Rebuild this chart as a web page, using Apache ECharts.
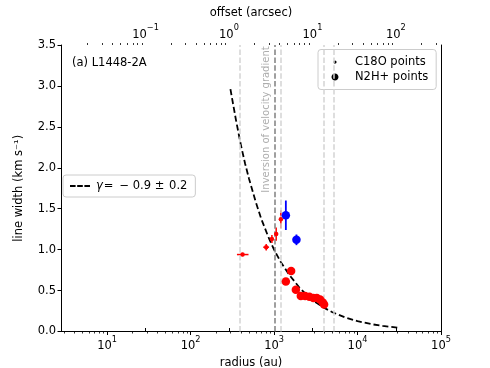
<!DOCTYPE html>
<html>
<head>
<meta charset="utf-8">
<script src="https://cdn.jsdelivr.net/npm/echarts@6/dist/echarts.min.js"></script>
<style>
  html, body { margin: 0; padding: 0; background: #fff; }
  #chart { width: 490px; height: 368px; }
</style>
</head>
<body>
<div id="chart"></div>
<script>
// ---- data ----
const distPc = 288;                 // au per arcsec
const xMin = 2.8, xMax = 1e5;       // radius range (au)

// dashed power-law curve, gamma = -0.9
const fitRadius = [300, 350, 400, 450, 500, 600, 700, 850, 1000, 1200, 1500, 2000, 2500, 3000, 4000, 5000, 7000, 10000, 15000, 20000, 30000];
const fitWidth  = [2.96, 2.58, 2.28, 2.05, 1.87, 1.59, 1.38, 1.16, 1.00, 0.85, 0.70, 0.54, 0.44, 0.37, 0.288, 0.235, 0.174, 0.126, 0.088, 0.068, 0.047];

// C18O points (small red) with errors
const c18oRadius = [419, 805, 942, 1060, 1206];
const c18oWidth  = [0.94, 1.03, 1.13, 1.19, 1.37];
const c18oErr    = [0.02, 0.04, 0.05, 0.08, 0.11];
const c18oRadLo  = [359, 742, 942, 1060, 1206];
const c18oRadHi  = [494, 871, 942, 1060, 1206];

// N2H+ points (large red)
const n2hRadius = [1384, 1601, 1824, 2092, 2355, 2651, 2958, 3250, 3558, 3835, 3973];
const n2hWidth  = [0.61, 0.74, 0.51, 0.435, 0.435, 0.425, 0.41, 0.41, 0.39, 0.355, 0.33];

// blue points with errors
const blueRadius = [1384, 1854];
const blueWidth  = [1.42, 1.12];
const blueErr    = [0.18, 0.065];

// vertical dashed markers (au)
const vlineRadius = [392, 1020, 1190, 3970, 5140];
const vlineDark = 1;

const xMajor = [10, 100, 1000, 10000, 100000];
const topMajor = [0.1, 1, 10, 100];
const yTicks = [0, 0.5, 1, 1.5, 2, 2.5, 3, 3.5];

// ---- helpers ----
const FONT = 'DejaVu Sans';
const FS = 11.5;

function minorTicks(lo, hi) {
  const out = [];
  for (let k = -4; k <= 5; k++) {
    for (let m = 2; m <= 9; m++) {
      const v = m * Math.pow(10, k);
      if (v > lo && v < hi) out.push(v);
    }
  }
  return out;
}

function pow10Label(v) {
  const e = Math.round(Math.log10(v));
  return '{b|10}{s|' + (e < 0 ? '\u2212' + (-e) : e) + '}';
}

const supRich = {
  b: { fontFamily: FONT, fontSize: FS, color: '#000', verticalAlign: 'bottom', lineHeight: 17 },
  s: { fontFamily: FONT, fontSize: 8.2, color: '#000', verticalAlign: 'top', lineHeight: 17 }
};

function errBars(color, width) {
  return function (params, api) {
    const x = api.value(0), y = api.value(1);
    const xlo = api.value(2), xhi = api.value(3), ylo = api.value(4), yhi = api.value(5);
    const p = api.coord([x, y]);
    const kids = [];
    if (ylo !== yhi) {
      kids.push({ type: 'line', shape: { x1: p[0], y1: api.coord([x, ylo])[1], x2: p[0], y2: api.coord([x, yhi])[1] },
        style: { stroke: color, lineWidth: width } });
    }
    if (xlo !== xhi) {
      kids.push({ type: 'line', shape: { x1: api.coord([xlo, y])[0], y1: p[1], x2: api.coord([xhi, y])[0], y2: p[1] },
        style: { stroke: color, lineWidth: width } });
    }
    return { type: 'group', children: kids };
  };
}

// minor log ticks, drawn outward from the axis line (dir: +1 down, -1 up)
function minorTick(dir) {
  return function (params, api) {
    const p = api.coord([api.value(0), api.value(1)]);
    return { type: 'line', shape: { x1: Math.round(p[0]) + 0.5, y1: p[1], x2: Math.round(p[0]) + 0.5, y2: p[1] + dir * 2 },
      style: { stroke: '#000', lineWidth: 0.8 } };
  };
}

const axisBlack = { lineStyle: { color: '#000', width: 1 } };
const tickMajor = { length: 3.5, lineStyle: { color: '#000', width: 1 } };

// legend glyphs: small / large dot and matplotlib-like "---"
const smallDot = 'path://M0,0h0.01M20,10h0.01M6.6,5C6.6,5.884 5.884,6.6 5,6.6C4.116,6.6 3.4,5.884 3.4,5C3.4,4.116 4.116,3.4 5,3.4C5.884,3.4 6.6,4.116 6.6,5Z';
const bigDot = 'path://M0,0h0.01M20,10h0.01M8.5,5C8.5,6.933 6.933,8.5 5,8.5C3.067,8.5 1.5,6.933 1.5,5C1.5,3.067 3.067,1.5 5,1.5C6.933,1.5 8.5,3.067 8.5,5Z';
const dashIcon = 'path://M0,0h0.01M22,10h0.01M1,4.1h5.6v1.8h-5.6zM8.2,4.1h5.6v1.8h-5.6zM15.4,4.1h5.6v1.8h-5.6z';
const blackIcon = { color: '#000', borderWidth: 0, opacity: 1 };

const chart = echarts.init(document.getElementById('chart'));

const option = {
  animation: false,
  backgroundColor: '#fff',
  textStyle: { fontFamily: FONT },
  title: {
    text: '(a) L1448-2A', left: 72, top: 57, padding: 0,
    textStyle: { fontFamily: FONT, fontSize: FS, fontWeight: 'normal', color: '#000' }
  },
  grid: { left: 61, right: 49, top: 45, bottom: 36.5, containLabel: false, outerBoundsMode: 'none' },
  legend: [
    {
      data: [
        { name: 'C18O points', icon: smallDot, itemStyle: blackIcon },
        { name: 'N2H+ points', icon: bigDot, itemStyle: blackIcon }
      ],
      orient: 'vertical', left: 318, top: 49.5,
      itemWidth: 20, itemHeight: 10, itemGap: 2,
      padding: [6, 8, 6, 12],
      borderColor: '#cccccc', borderWidth: 1, borderRadius: 3,
      backgroundColor: 'rgba(255,255,255,0.8)',
      selectedMode: false,
      textStyle: { fontFamily: FONT, fontSize: FS, color: '#000', lineHeight: 13 }
    },
    {
      data: [{ name: 'fit', icon: dashIcon, itemStyle: blackIcon }],
      left: 63, top: 175,
      itemWidth: 22, itemHeight: 10,
      padding: [5, 8, 5, 6],
      borderColor: '#cccccc', borderWidth: 1, borderRadius: 3,
      backgroundColor: 'rgba(255,255,255,0.8)',
      selectedMode: false,
      formatter: function () { return '{g|\u03b3}= \u2009\u2212 0.9 \u00b1 \u200a0.2'; },
      textStyle: {
        fontFamily: FONT, fontSize: FS, color: '#000',
        rich: { g: { fontFamily: FONT, fontSize: FS, fontStyle: 'italic', color: '#000', padding: [0, 1, 0, 0] } }
      }
    }
  ],
  xAxis: [
    {
      type: 'log', logBase: 10, position: 'bottom', min: xMin, max: xMax,
      name: 'radius (au)', nameLocation: 'middle', nameGap: 21,
      nameTextStyle: { fontFamily: FONT, fontSize: FS, color: '#000' },
      axisLine: axisBlack,
      axisTick: Object.assign({ customValues: xMajor }, tickMajor),
      axisLabel: { customValues: xMajor, formatter: pow10Label, rich: supRich, margin: 4 },
      splitLine: { show: false }, minorTick: { show: false }
    },
    {
      type: 'log', logBase: 10, position: 'top', min: xMin / distPc, max: xMax / distPc,
      name: 'offset (arcsec)', nameLocation: 'middle', nameGap: 22,
      nameTextStyle: { fontFamily: FONT, fontSize: FS, color: '#000' },
      axisLine: axisBlack,
      axisTick: Object.assign({ customValues: topMajor }, tickMajor),
      axisLabel: { customValues: topMajor, formatter: pow10Label, rich: supRich, margin: 4 },
      splitLine: { show: false }, minorTick: { show: false }
    }
  ],
  yAxis: [
    {
      type: 'value', position: 'left', min: 0, max: 3.5, interval: 0.5,
      name: 'line width (km s\u207b\u00b9)', nameLocation: 'middle', nameGap: 36,
      nameTextStyle: { fontFamily: FONT, fontSize: FS, color: '#000' },
      axisLine: Object.assign({ show: true }, axisBlack),
      axisTick: Object.assign({ show: true, customValues: yTicks }, tickMajor),
      axisLabel: { fontFamily: FONT, fontSize: FS, color: '#000', margin: 5,
        formatter: function (v) { return v.toFixed(1); } },
      splitLine: { show: false }
    },
    {
      type: 'value', position: 'right', min: 0, max: 3.5,
      axisLine: Object.assign({ show: true }, axisBlack),
      axisTick: { show: false }, axisLabel: { show: false }, splitLine: { show: false }
    }
  ],
  series: [
    {
      name: 'minorBottom', type: 'custom', xAxisIndex: 0, yAxisIndex: 0, z: 1, clip: false, silent: true,
      renderItem: minorTick(1), encode: { x: 0, y: 1 },
      data: minorTicks(xMin, xMax).map(function (v) { return [v, 0]; })
    },
    {
      name: 'minorTop', type: 'custom', xAxisIndex: 1, yAxisIndex: 0, z: 1, clip: false, silent: true,
      renderItem: minorTick(-1), encode: { x: 0, y: 1 },
      data: minorTicks(xMin / distPc, xMax / distPc).map(function (v) { return [v, 3.5]; })
    },
    {
      name: 'markers', type: 'scatter', xAxisIndex: 0, yAxisIndex: 0, z: 1,
      symbolSize: 0,
      data: [[820, 2.59]],
      label: {
        show: true, position: 'inside', rotate: 90,
        formatter: 'Inversion of velocity gradient',
        fontFamily: FONT, fontSize: 10, color: '#999999'
      },
      markLine: {
        symbol: ['none', 'none'], silent: true, animation: false,
        label: { show: false },
        data: vlineRadius.map(function (r, i) {
          return {
            xAxis: r,
            lineStyle: { color: i === vlineDark ? '#808080' : '#d3d3d3', type: [5.5, 2.4], width: 1.5 }
          };
        })
      }
    },
    {
      name: 'fit', type: 'line', xAxisIndex: 0, yAxisIndex: 0, z: 3,
      symbol: 'none', smooth: false,
      lineStyle: { color: '#000', width: 1.8, type: [6, 3] },
      itemStyle: { color: '#000' },
      data: fitRadius.map(function (r, i) { return [r, fitWidth[i]]; })
    },
    {
      name: 'c18oErr', type: 'custom', xAxisIndex: 0, yAxisIndex: 0, z: 4,
      renderItem: errBars('#ff0000', 1.5),
      encode: { x: 0, y: 1 },
      data: c18oRadius.map(function (r, i) {
        return [r, c18oWidth[i], c18oRadLo[i], c18oRadHi[i], c18oWidth[i] - c18oErr[i], c18oWidth[i] + c18oErr[i]];
      })
    },
    {
      name: 'blueErr', type: 'custom', xAxisIndex: 0, yAxisIndex: 0, z: 4,
      renderItem: errBars('#0000ff', 1.8),
      encode: { x: 0, y: 1 },
      data: blueRadius.map(function (r, i) {
        return [r, blueWidth[i], r, r, blueWidth[i] - blueErr[i], blueWidth[i] + blueErr[i]];
      })
    },
    {
      name: 'C18O points', type: 'scatter', xAxisIndex: 0, yAxisIndex: 0, z: 5,
      symbolSize: 4.5, itemStyle: { color: '#ff0000', opacity: 1 },
      data: c18oRadius.map(function (r, i) { return [r, c18oWidth[i]]; })
    },
    {
      name: 'N2H+ points', type: 'scatter', xAxisIndex: 0, yAxisIndex: 0, z: 5,
      symbolSize: 8.5, itemStyle: { color: '#ff0000', opacity: 1 },
      data: n2hRadius.map(function (r, i) { return [r, n2hWidth[i]]; })
    },
    {
      name: 'blue', type: 'scatter', xAxisIndex: 0, yAxisIndex: 0, z: 5,
      symbolSize: 8.5, itemStyle: { color: '#0000ff', opacity: 1 },
      data: blueRadius.map(function (r, i) { return [r, blueWidth[i]]; })
    }
  ]
};

chart.setOption(option);
</script>
</body>
</html>
